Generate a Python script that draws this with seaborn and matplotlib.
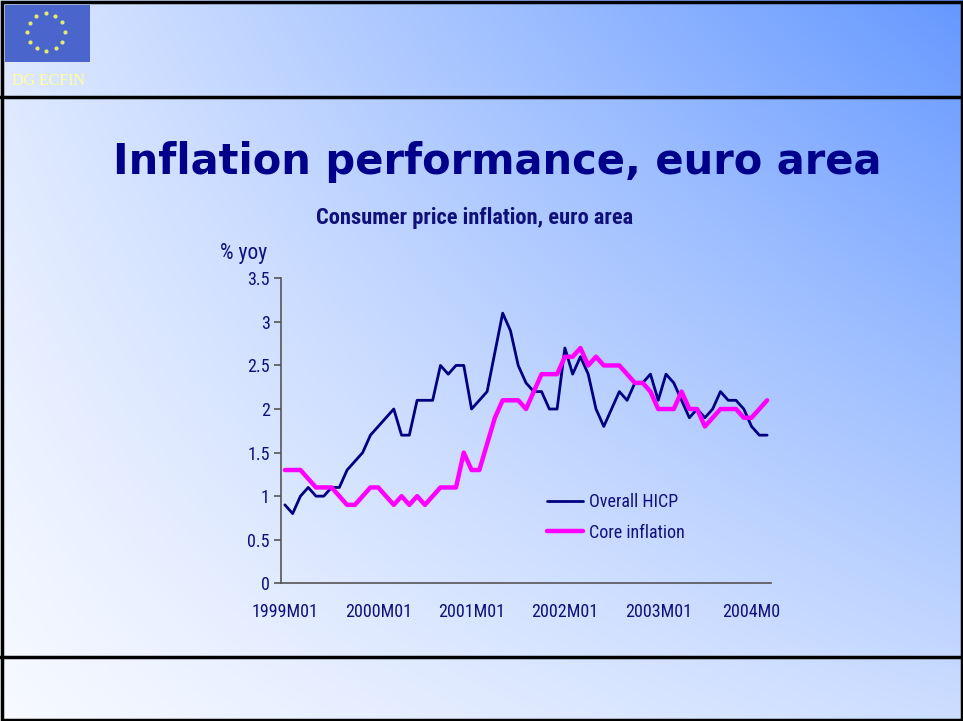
import numpy as np
import pandas as pd
import matplotlib
matplotlib.use("Agg")
import matplotlib.pyplot as plt
from matplotlib.lines import Line2D
from matplotlib.patches import Rectangle
import seaborn as sns

# monthly data, 1999M01 .. 2004M03
hicp = [0.9, 0.8, 1.0, 1.1, 1.0, 1.0, 1.1, 1.1, 1.3, 1.4, 1.5, 1.7,
        1.8, 1.9, 2.0, 1.7, 1.7, 2.1, 2.1, 2.1, 2.5, 2.4, 2.5, 2.5,
        2.0, 2.1, 2.2, 2.65, 3.1, 2.9, 2.5, 2.3, 2.2, 2.2, 2.0, 2.0,
        2.7, 2.4, 2.6, 2.4, 2.0, 1.8, 2.0, 2.2, 2.1, 2.3, 2.3, 2.4,
        2.1, 2.4, 2.3, 2.1, 1.9, 2.0, 1.9, 2.0, 2.2, 2.1, 2.1, 2.0,
        1.8, 1.7, 1.7]
core = [1.3, 1.3, 1.3, 1.2, 1.1, 1.1, 1.1, 1.0, 0.9, 0.9, 1.0, 1.1,
        1.1, 1.0, 0.9, 1.0, 0.9, 1.0, 0.9, 1.0, 1.1, 1.1, 1.1, 1.5,
        1.3, 1.3, 1.6, 1.9, 2.1, 2.1, 2.1, 2.0, 2.2, 2.4, 2.4, 2.4,
        2.6, 2.6, 2.7, 2.5, 2.6, 2.5, 2.5, 2.5, 2.4, 2.3, 2.3, 2.2,
        2.0, 2.0, 2.0, 2.2, 2.0, 2.0, 1.8, 1.9, 2.0, 2.0, 2.0, 1.9,
        1.9, 2.0, 2.1]
series_names = ["Overall HICP", "Core inflation"]
tick_pos = [0, 12, 24, 36, 48, 60]
tick_labels = ["1999M01", "2000M01", "2001M01", "2002M01", "2003M01", "2004M0"]
y_ticks = [0, 0.5, 1, 1.5, 2, 2.5, 3, 3.5]
y_tick_labels = ["0", "0.5", "1", "1.5", "2", "2.5", "3", "3.5"]

months = np.arange(len(hicp))
df = pd.DataFrame({
    "month": np.concatenate([months, months]),
    "value": hicp + core,
    "series": [series_names[0]] * len(hicp) + [series_names[1]] * len(core),
})

sns.set_theme(style="white")
plt.rcParams["font.family"] = ["Roboto Condensed", "DejaVu Sans"]

navy = "#000080"
text_navy = "#10107a"
W, H = 963, 721
fig = plt.figure(figsize=(W / 100, H / 100), dpi=100)

# slide background (diagonal white -> blue gradient)
bg = fig.add_axes([0, 0, 1, 1])
xx, yy = np.meshgrid(np.linspace(0, 1, 300), np.linspace(0, 1, 300))
u, v = xx, 1 - yy
t = np.clip(0.05 + 0.28 * u + 0.18 * v + 0.5 * u * v, 0, 1)
white = np.array([1.0, 1.0, 1.0])
blue = np.array([0.40, 0.60, 1.0])
img = white[None, None, :] * (1 - t[..., None]) + blue[None, None, :] * t[..., None]
bg.imshow(img, extent=[0, W, H, 0], aspect="auto", zorder=0)
bg.set_xlim(0, W)
bg.set_ylim(H, 0)
bg.axis("off")

# frame lines
bg.add_patch(Rectangle((1.5, 1.5), W - 3, H - 3, fill=False, ec="black", lw=2.5, zorder=3))
bg.plot([0, W], [96.5, 96.5], color="black", lw=2.5, zorder=3)
bg.plot([0, W], [656.5, 656.5], color="black", lw=2.5, zorder=3)

# EU flag + DG ECFIN
bg.add_patch(Rectangle((5, 5), 85, 57, fc="#4a66cc", ec="none", zorder=2))
ang = np.linspace(0, 2 * np.pi, 13)[:-1]
bg.scatter(46 + 19 * np.cos(ang), 32 + 19 * np.sin(ang), marker="o", s=9,
           color="#e6ea70", linewidths=0, zorder=3)
bg.text(12, 81, "DG ECFIN", color="#ffff99", fontsize=11.5,
        family=["Liberation Serif", "DejaVu Serif"], va="center", ha="left", zorder=3)

# titles
fig.text(497 / W, 1 - 162 / H, "Inflation performance, euro area", ha="center", va="center",
         fontsize=30, fontweight="bold", color="#00008b", family=["DejaVu Sans"])
fig.text(475 / W, 1 - 218 / H, "Consumer price inflation, euro area", ha="center", va="center",
         fontsize=16.2, fontweight="bold", color=text_navy)
fig.text(220 / W, 1 - 253 / H, "% yoy", ha="left", va="center", fontsize=15.5, color=text_navy)

# chart
ax = fig.add_axes([281 / W, 1 - 583.3 / H, 490 / W, 305 / H])
ax.patch.set_alpha(0)
sns.lineplot(data=df, x="month", y="value", hue="series", hue_order=series_names,
             palette=[navy, "#ff00ff"], size="series",
             sizes={series_names[0]: 2.0, series_names[1]: 3.2},
             legend=False, ax=ax, zorder=4)
ax.set_xlim(-0.5, len(hicp) - 0.5)
ax.set_ylim(0, 3.5)
ax.set_yticks(y_ticks)
ax.set_yticklabels(y_tick_labels)
ax.set_xticks(tick_pos)
ax.set_xticklabels(tick_labels)
ax.set_xlabel("")
ax.set_ylabel("")
for side in ["top", "right"]:
    ax.spines[side].set_visible(False)
for side in ["left", "bottom"]:
    ax.spines[side].set_color("#555555")
    ax.spines[side].set_linewidth(1.2)
ax.tick_params(axis="y", left=True, length=5, width=1.2, color="#555555", pad=3,
               labelsize=13, labelcolor=text_navy)
ax.tick_params(axis="x", bottom=False, length=0, pad=14, labelsize=13, labelcolor=text_navy)

handles = [Line2D([], [], color=navy, lw=2.0), Line2D([], [], color="#ff00ff", lw=3.2)]
ax.legend(handles, series_names, loc="upper left", bbox_to_anchor=(547 / W, 1 - 493 / H),
          bbox_transform=fig.transFigure, frameon=False, fontsize=13, labelcolor=text_navy,
          handlelength=2.0, handletextpad=0.3, labelspacing=0.7, borderpad=0, borderaxespad=0)

fig.savefig("out.png", dpi=100)
